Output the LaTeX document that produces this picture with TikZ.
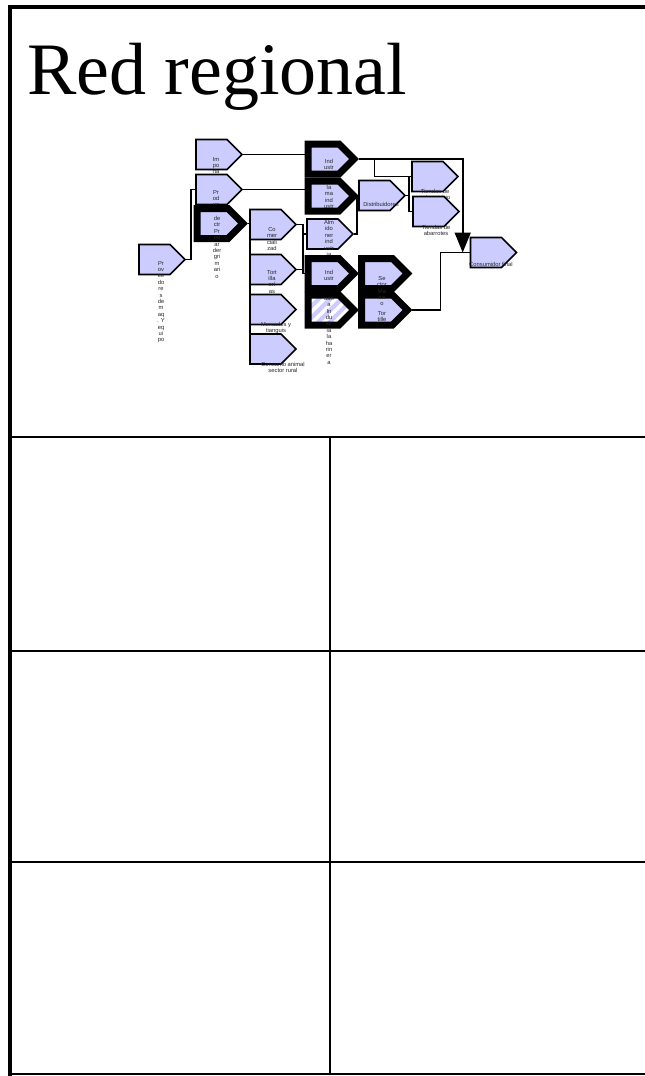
\documentclass[tikz,border=0pt]{standalone}
\usepackage{fontspec}
\setmainfont{Liberation Serif}
\setsansfont{Liberation Sans}
\usetikzlibrary{shapes.symbols, arrows.meta, calc, patterns.meta}
\definecolor{boxlav}{HTML}{CCCCFF}

\begin{document}
\begin{tikzpicture}[x=1pt, y=-1pt,
    every node/.style={inner sep=0pt},
    sbox/.style={signal, signal to=east, draw, line width=1.6pt, fill=boxlav,
                 minimum width=46pt, minimum height=30pt, xshift=-7pt},
    hbox/.style={sbox, line width=7pt},
    hatch/.style={preaction={fill=boxlav}, pattern color=white,
                  pattern={Lines[angle=45, distance=8pt, line width=3.5pt]}},
    txt/.style={font=\sffamily\fontsize{5.8}{6.4}\selectfont, align=center,
                anchor=north, text=black!85},
    link/.style={line width=1.8pt},
    grid/.style={line width=2.5pt},
    >={Triangle[length=20pt, width=16pt]},
  ]
  \useasboundingbox (0,0) rectangle (645,1076);

  % frame and table
  \draw[line width=4.5pt] (10,1076) -- (10,7) -- (645,7);
  \draw[grid] (10,437) -- (645,437);
  \draw[grid] (330,437) -- (330,1074);
  \draw[grid] (10,651) -- (645,651);
  \draw[grid] (10,862) -- (645,862);
  \draw[line width=2pt] (10,1074) -- (645,1074);

  \node[anchor=base west, font=\fontsize{74}{88}\selectfont] (title) at (27,94) {Red regional};

  % left column
  \node[sbox] (prov) at (161.5,259.5) {};
  \node[txt] (provt) at (161,261) {Pr\\ov\\ee\\do\\re\\s\\de\\m\\aq\\. Y\\eq\\ui\\po};
  \node[sbox] (imp) at (218.5,154.5) {};
  \node[txt] (impt) at (216,157) {Im\\po\\rta};
  \node[sbox] (prod) at (218.5,189.5) {};
  \node[txt] (prodt) at (216,190) {Pr\\od\\uc\\to\\r};
  \node[hbox] (prim) at (219.5,223.5) {};
  \node[txt] (primt) at (217,216) {de\\ctr\\Pr\\od\\ar\\der\\gri\\m\\ari\\o};

  \node[sbox] (com) at (272.5,224.5) {};
  \node[txt] (comt) at (272,227) {Co\\mer\\ciali\\zad};
  \node[sbox] (tort) at (272.5,269.5) {};
  \node[txt] (tortt) at (272,270) {Tort\\illa\\erí\\as};
  \node[sbox] (merc) at (272.5,309.5) {};
  \node[txt] (merct) at (276,322) {Mercados y\\tianguis};
  \node[sbox] (anim) at (272.5,349) {};
  \node[txt] (animt) at (283,362) {Consumo animal\\sector rural};

  % industries
  \node[hbox] (ind1) at (330.5,159) {};
  \node[txt] (ind1t) at (329,159) {Ind\\ustr};
  \node[hbox] (ind2) at (330.5,196) {};
  \node[txt] (ind2t) at (329,185) {la\\ma\\ind\\ustr};
  \node[sbox] (ind3) at (329.5,234) {};
  \node[txt] (ind3t) at (329,220) {Alm\\ido\\ner\\ind\\ustr\\ia};
  \node[hbox] (ind4) at (330.5,273.5) {};
  \node[txt] (ind4t) at (329,270) {Ind\\ustr};
  \node[hbox, hatch] (har) at (330.5,310) {};
  \node[txt] (hart) at (329,297) {uan\\a\\In\\du\\str\\ia\\la\\ha\\rin\\er\\a};

  % distribution
  \node[sbox] (dist) at (381.5,195.5) {};
  \node[txt] (distt) at (381,202) {Distribuidores};
  \node[hbox] (sect) at (384,273.5) {};
  \node[hbox] (tortb) at (384,310) {};
  \node[txt] (sectt) at (382,276) {Se\\ctor\\Ma\\sa\\o};
  \node[txt] (tortbt) at (382,311) {Tor\\tille};
  \node[sbox] (tiend1) at (434.5,176.5) {};
  \node[txt] (tiend1t) at (435,189) {Tiendas de\\autoservicio};
  \node[sbox] (tiend2) at (435.5,211.5) {};
  \node[txt] (tiend2t) at (436,225) {Tiendas de\\abarrotes};
  \node[sbox] (cons) at (493,252.5) {};
  \node[txt] (const) at (491,262) {Consumidor final};

  % connectors
  \draw[link] (prov.east) -- ++(5,0) |- (prod.west);
  \draw[link] (imp.east) -- (imp.east -| ind1.west);
  \draw[link] (prod.east) -- (prod.east -| ind2.west);
  \coordinate (pbus) at ($(prim.east)+(2,0)$);
  \draw[link] (prim.east) -- (pbus) |- (anim.west);
  \foreach \n in {com,tort,merc}
    \draw[link] (pbus |- \n.west) -- (\n.west);
  \coordinate (cbus) at ($(com.east)+(6,0)$);
  \draw[link] (com.east) -- (cbus) |- (ind4.west);
  \draw[link] (tort.east) -- (tort.east -| cbus);
  \draw[link] (cbus |- ind3.west) -- (ind3.west);
  \draw[link, ->] (ind1.east) -| ($(cons.west)+(-7,0)$);
  \draw[link] (ind1.east -| dist) |- (tiend1.west);
  \coordinate (tbus) at ($(tiend1.west)+(-2,0)$);
  \draw[link] (tiend1.west) -- (tbus) |- (tiend2.west);
  \draw[link] (dist.east) -- (dist.east -| tbus);
  \draw[link] (ind3.east) -- ++(3,0) |- (dist.west);
  \draw[link] (tortb.east) -- ++(28,0) |- (cons.west);
\end{tikzpicture}
\end{document}
